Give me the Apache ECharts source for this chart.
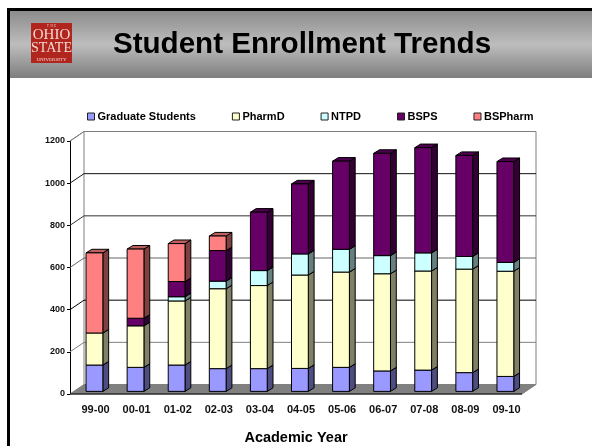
<!DOCTYPE html>
<html>
<head>
<meta charset="utf-8">
<style>html,body{margin:0;padding:0;background:#fff}#c{width:592px;height:446px}</style>
<script src="https://cdn.jsdelivr.net/npm/echarts@6/dist/echarts.min.js"></script>
</head>
<body>
<div id="c"></div>
<script>
const categories = ['99-00','00-01','01-02','02-03','03-04','04-05','05-06','06-07','07-08','08-09','09-10'];
const yTicks = [0,200,400,600,800,1000,1200];
const graduate = [125,114,125,108,108,109,114,97,101,89,71];
const pharmD   = [152,197,304,379,394,443,452,461,470,491,499];
const ntpd     = [0,0,20,36,71,100,108,86,86,60,42];
const bsps     = [0,36,72,145,277,332,418,485,499,479,478];
const bsPharm  = [380,328,180,69,0,0,0,0,0,0,0];

const seriesDefs = [
  {name:'Graduate Students', values:graduate, front:'#9999FF', side:'#4D4D80', top:'#7373BF'},
  {name:'PharmD',            values:pharmD,   front:'#FFFFCC', side:'#808066', top:'#BFBF99'},
  {name:'NTPD',              values:ntpd,     front:'#CCFFFF', side:'#668080', top:'#99BFBF'},
  {name:'BSPS',              values:bsps,     front:'#660066', side:'#330033', top:'#4D004D'},
  {name:'BSPharm',           values:bsPharm,  front:'#FF8080', side:'#804040', top:'#BF6060'}
];
const gridColors = {0:'#808080',200:'#808080',400:'#000000',600:'#666666',800:'#333333',1000:'#111111',1200:'#808080'};

const WALL_DX = 14, WALL_DY = -9.5;
const BAR_W = 16.8, BAR_DX = 5.8, BAR_DY = -3.6, SHIFT_X = 3.9, SHIFT_Y = -2.6;

function renderWalls(params, api) {
  const sys = params.coordSys;
  const v = api.value(1);
  const y = api.coord([0, v])[1];
  const x0 = sys.x, x1 = sys.x + sys.width;
  const children = [];
  if (v === 0) {
    const top = sys.y;
    children.push({type:'rect', shape:{x:x0+WALL_DX, y:top+WALL_DY, width:sys.width, height:y-top},
      style:{fill:'#fff', stroke:'#808080', lineWidth:1}});
    children.push({type:'line', shape:{x1:x0, y1:top, x2:x0+WALL_DX, y2:top+WALL_DY}, style:{stroke:'#808080', lineWidth:1}});
    children.push({type:'polygon', shape:{points:[[x0,y],[x0+WALL_DX,y+WALL_DY],[x1+WALL_DX,y+WALL_DY],[x1,y]]},
      style:{fill:'#808080', stroke:'#808080', lineWidth:1}});
    children.push({type:'line', shape:{x1:x0, y1:y, x2:x1, y2:y}, style:{stroke:'#000', lineWidth:1.2}});
  } else {
    const col = gridColors[v];
    children.push({type:'line', shape:{x1:x0, y1:y, x2:x0+WALL_DX, y2:y+WALL_DY}, style:{stroke:col, lineWidth:1}});
    children.push({type:'line', shape:{x1:x0+WALL_DX, y1:y+WALL_DY, x2:x1+WALL_DX, y2:y+WALL_DY}, style:{stroke:col, lineWidth:1}});
  }
  return {type:'group', children};
}

function boxRenderer(def) {
  return function (params, api) {
    const a = api.value(1), b = api.value(2);
    if (b <= a) return null;
    const cx = api.coord([api.value(0), 0])[0] + SHIFT_X;
    const yB = api.coord([0, a])[1] + SHIFT_Y;
    const yT = api.coord([0, b])[1] + SHIFT_Y;
    const xL = cx - BAR_W / 2, xR = cx + BAR_W / 2;
    const s = {stroke:'#000', lineWidth:1, lineJoin:'round'};
    return {type:'group', children:[
      {type:'polygon', shape:{points:[[xR,yB],[xR+BAR_DX,yB+BAR_DY],[xR+BAR_DX,yT+BAR_DY],[xR,yT]]}, style:Object.assign({fill:def.side}, s)},
      {type:'polygon', shape:{points:[[xL,yT],[xL+BAR_DX,yT+BAR_DY],[xR+BAR_DX,yT+BAR_DY],[xR,yT]]}, style:Object.assign({fill:def.top}, s)},
      {type:'rect', shape:{x:xL, y:yT, width:BAR_W, height:yB-yT}, style:Object.assign({fill:def.front}, s)}
    ]};
  };
}

const running = categories.map(() => 0);
const barSeries = seriesDefs.map(def => {
  const data = def.values.map((v, i) => {
    const row = [i, running[i], running[i] + v];
    running[i] += v;
    return row;
  });
  return {
    name: def.name, type:'custom', z:3, clip:false,
    itemStyle:{color:def.front},
    encode:{x:0, y:[1,2]},
    renderItem: boxRenderer(def),
    data
  };
});

const logoText = (text, y, size) => ({
  type:'text', z:11,
  style:{text:text, x:51.5, y:y, align:'center', verticalAlign:'middle',
    font:'normal '+size+'px "Liberation Serif"', fill:'#F3D9D2'}
});

const option = {
  animation:false,
  backgroundColor:'#fff',
  textStyle:{fontFamily:'"Liberation Sans", Arial, sans-serif'},
  title:{
    text:'Student Enrollment Trends', left:302, top:45, textAlign:'center', textVerticalAlign:'middle', z:12, padding:0,
    textStyle:{fontFamily:'"Liberation Sans"', fontWeight:'bold', fontSize:29.6, color:'#000'}
  },
  legend:{
    left:87, top:111, padding:0, icon:'rect', itemWidth:7, itemHeight:7, itemGap:36,
    selectedMode:false,
    data:seriesDefs.map(d => d.name),
    itemStyle:{borderColor:'#222', borderWidth:1},
    textStyle:{fontFamily:'"Liberation Sans"', fontWeight:'bold', fontSize:11, color:'#000', padding:[0,0,0,-2]}
  },
  grid:{left:70, right:70, top:141, bottom:52, outerBoundsMode:'none'},
  xAxis:{
    type:'category', data:categories,
    axisTick:{show:false}, axisLine:{show:false},
    axisLabel:{fontFamily:'"Liberation Sans"', fontWeight:'bold', fontSize:11, color:'#111', margin:10, interval:0, padding:[0,0,0,10]},
    name:'Academic Year', nameLocation:'middle', nameGap:36,
    nameTextStyle:{fontFamily:'"Liberation Sans"', fontWeight:'bold', fontSize:14.5, color:'#000'}
  },
  yAxis:{
    type:'value', min:0, max:1200, interval:200,
    axisLine:{show:true, lineStyle:{color:'#000', width:1}},
    axisTick:{show:true, length:3, lineStyle:{color:'#000'}},
    splitLine:{show:false},
    axisLabel:{fontFamily:'"Liberation Sans"', fontWeight:'bold', fontSize:9, color:'#111', margin:5, formatter:v => String(v)}
  },
  graphic:[
    {type:'rect', z:-10, shape:{x:10,y:11,width:582,height:67},
      style:{fill:new echarts.graphic.LinearGradient(0,0,0,1,[
        {offset:0,color:'#8C8C8C'},{offset:0.5,color:'#BDBDBD'},{offset:1,color:'#7E7E7E'}])}},
    {type:'rect', z:-9, shape:{x:7,y:8,width:585,height:3}, style:{fill:'#000'}},
    {type:'rect', z:-9, shape:{x:7,y:8,width:3,height:438}, style:{fill:'#000'}},
    {type:'rect', z:10, shape:{x:31,y:23,width:41,height:40}, style:{fill:'#B0261E'}},
    logoText('T  H  E', 26, 3),
    logoText('OHIO', 35, 15),
    logoText('STATE', 48, 14),
    logoText('UNIVERSITY', 59.5, 5)
  ],
  series:[
    {name:'walls', type:'custom', z:1, clip:false, renderItem:renderWalls, encode:{y:1},
     data:yTicks.map(t => [0, t])},
    ...barSeries
  ]
};

const chart = echarts.init(document.getElementById('c'), null, {renderer:'canvas', width:592, height:446});
chart.setOption(option);
</script>
</body>
</html>
